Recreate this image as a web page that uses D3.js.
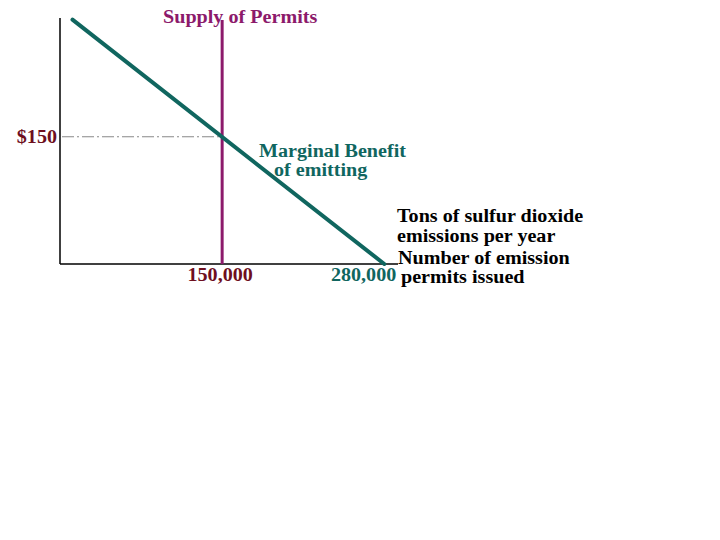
<!DOCTYPE html>
<html>
<head>
<meta charset="utf-8">
<script src="https://cdn.jsdelivr.net/npm/d3@7"></script>
<style>
  body { margin: 0; background: #fff; }
  text { font-family: "Liberation Serif", "Times New Roman", serif; font-weight: bold; font-size: 19px; }
</style>
</head>
<body>
<svg width="720" height="540"></svg>
<script>
let svg = d3.select('svg');

// quantities (tons / permits) and prices
let permitSupply = 150000;
let priceEq = 150;
let mbQuantity = [30000, 280000];
let mbPrice = [288, 0];
let xTickValues = [150000, 280000];
let xTickLabels = ['150,000', '280,000'];
let yTickLabel = '$150';
let xAxisLabel = ['Tons of sulfur dioxide', 'emissions per year', 'Number of emission', 'permits issued'];

let teal = '#10665f';
let purple = '#8c1a6b';
let darkRed = '#6e0f1e';

// scales
let xScale = d3.scaleLinear().domain([20000, 291000]).range([60, 398]);
let yScale = d3.scaleLinear().domain([0, 290]).range([264, 18]);

// horizontal stretch so text widths match the wide bitmap-like font
let sx = 1.06;
let place = (x, y) => `translate(${x},${y}) scale(${sx},1)`;

// axes (plain lines, no ticks)
svg.append('line')
    .attr('x1', xScale(20000)).attr('x2', xScale(20000))
    .attr('y1', yScale(290)).attr('y2', yScale(0))
    .attr('stroke', '#000').attr('stroke-width', 1.5);
svg.append('line')
    .attr('x1', xScale(20000)).attr('x2', xScale(291000))
    .attr('y1', yScale(0)).attr('y2', yScale(0))
    .attr('stroke', '#000').attr('stroke-width', 1.5);

// dash-dot guide at equilibrium price
svg.append('line')
    .attr('x1', xScale(20000) + 2).attr('x2', xScale(permitSupply))
    .attr('y1', yScale(priceEq)).attr('y2', yScale(priceEq))
    .attr('stroke', '#888').attr('stroke-width', 1)
    .attr('stroke-dasharray', '12,3,2,3');

// supply of permits (vertical)
svg.append('line')
    .attr('x1', xScale(permitSupply)).attr('x2', xScale(permitSupply))
    .attr('y1', 20).attr('y2', yScale(0))
    .attr('stroke', purple).attr('stroke-width', 3);

// marginal benefit line
let mbData = mbQuantity.map((q, i) => ({q: q, p: mbPrice[i]}));
let line = d3.line().x(d => xScale(d.q)).y(d => yScale(d.p));
svg.append('path')
    .datum(mbData)
    .attr('d', line)
    .attr('fill', 'none')
    .attr('stroke', teal)
    .attr('stroke-width', 4)
    .attr('stroke-linecap', 'round');

// labels
svg.append('text')
    .attr('transform', place(163, 23))
    .attr('fill', purple)
    .text('Supply of Permits');

svg.append('text')
    .attr('transform', place(xScale(20000) - 3, yScale(priceEq) + 6))
    .attr('text-anchor', 'end')
    .attr('fill', darkRed)
    .text(yTickLabel);

svg.append('text')
    .attr('transform', place(259, 157))
    .attr('fill', teal)
    .text('Marginal Benefit');
svg.append('text')
    .attr('transform', place(274, 176))
    .attr('fill', teal)
    .text('of emitting');

let tickColors = [darkRed, teal];
svg.selectAll('.xtick')
    .data(xTickValues)
    .enter().append('text')
    .attr('class', 'xtick')
    .attr('transform', (d, i) => i === 0 ? place(xScale(d) - 2, 281) : place(xScale(d) + 12, 281))
    .attr('text-anchor', (d, i) => i === 0 ? 'middle' : 'end')
    .attr('fill', (d, i) => tickColors[i])
    .text((d, i) => xTickLabels[i]);

let labelPos = [[397, 222], [397, 242], [398, 264], [401, 283]];
svg.selectAll('.xlabel')
    .data(xAxisLabel)
    .enter().append('text')
    .attr('class', 'xlabel')
    .attr('transform', (d, i) => place(labelPos[i][0], labelPos[i][1]))
    .attr('fill', '#000')
    .text(d => d);
</script>
</body>
</html>
